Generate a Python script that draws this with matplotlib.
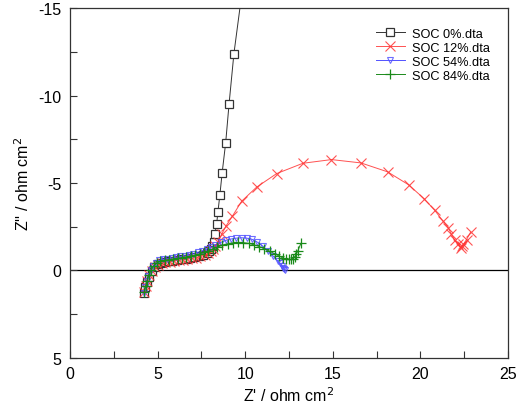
import matplotlib
matplotlib.use('Agg')

import matplotlib.pyplot as plt
from matplotlib.ticker import MultipleLocator, FuncFormatter

plt.rcParams['font.family'] = ['Liberation Sans', 'DejaVu Sans']

# SOC 0% (Z', Z'')
soc0_x = [4.22, 4.3, 4.4, 4.52, 4.66, 4.82, 5.0, 5.2, 5.4, 5.6, 5.85, 6.1, 6.35, 6.6,
          6.85, 7.1, 7.35, 7.6, 7.8, 7.95, 8.05, 8.12, 8.2, 8.28, 8.37, 8.45, 8.56,
          8.69, 8.89, 9.08, 9.36, 9.9]
soc0_y = [1.28, 0.95, 0.65, 0.35, 0.05, -0.2, -0.36, -0.45, -0.5, -0.54, -0.57, -0.6,
          -0.63, -0.67, -0.71, -0.76, -0.82, -0.9, -1.0, -1.12, -1.25, -1.4, -1.6,
          -2.11, -2.63, -3.37, -4.34, -5.6, -7.31, -9.49, -12.4, -16.5]

# SOC 12%
soc12_x = [4.25, 4.33, 4.42, 4.54, 4.68, 4.85, 5.05, 5.25, 5.45, 5.7, 5.95, 6.2, 6.45,
           6.7, 6.95, 7.2, 7.45, 7.7, 7.9, 8.05, 8.18, 8.3, 8.47, 8.66, 8.9, 9.27, 9.8,
           10.65, 11.8, 13.3, 14.93, 16.61, 18.13, 19.33, 20.21, 20.83, 21.3, 21.6,
           21.78, 21.97, 22.17, 22.3, 22.38, 22.45, 22.64, 22.87]
soc12_y = [1.25, 0.9, 0.58, 0.28, 0.02, -0.2, -0.34, -0.42, -0.47, -0.51, -0.55, -0.58,
           -0.61, -0.65, -0.69, -0.74, -0.8, -0.88, -0.98, -1.1, -1.25, -1.42, -1.65,
           -2.06, -2.53, -3.1, -3.96, -4.76, -5.54, -6.13, -6.34, -6.15, -5.64, -4.9,
           -4.11, -3.43, -2.82, -2.44, -2.06, -1.73, -1.49, -1.3, -1.38, -1.49, -1.77,
           -2.19]

# SOC 54%
soc54_x = [4.22, 4.3, 4.38, 4.48, 4.6, 4.75, 4.92, 5.1, 5.3, 5.55, 5.8, 6.05, 6.3, 6.55,
           6.8, 7.05, 7.3, 7.55, 7.8, 8.05, 8.3, 8.6, 8.9, 9.2, 9.5, 9.8, 10.1, 10.4,
           10.7, 11.0, 11.3, 11.6, 11.85, 12.0, 12.1, 12.18, 12.24, 12.27]
soc54_y = [1.28, 0.95, 0.62, 0.3, 0.0, -0.25, -0.45, -0.58, -0.64, -0.68, -0.72, -0.76,
           -0.8, -0.85, -0.9, -0.96, -1.03, -1.12, -1.22, -1.34, -1.47, -1.6, -1.72,
           -1.8, -1.85, -1.87, -1.85, -1.78, -1.62, -1.4, -1.1, -0.82, -0.55, -0.4,
           -0.28, -0.17, -0.09, -0.04]

# SOC 84%
soc84_x = [4.24, 4.32, 4.4, 4.5, 4.62, 4.78, 4.95, 5.15, 5.4, 5.65, 5.9, 6.15, 6.4, 6.65,
           6.9, 7.15, 7.4, 7.65, 7.9, 8.15, 8.4, 8.7, 9.0, 9.3, 9.6, 9.9, 10.2, 10.5,
           10.8, 11.1, 11.4, 11.7, 11.95, 12.15, 12.35, 12.5, 12.62, 12.72, 12.82, 12.92,
           13.0, 13.18]
soc84_y = [1.25, 0.9, 0.58, 0.28, 0.0, -0.25, -0.42, -0.52, -0.58, -0.62, -0.66, -0.7,
           -0.74, -0.78, -0.83, -0.88, -0.95, -1.03, -1.12, -1.22, -1.33, -1.44, -1.53,
           -1.58, -1.6, -1.59, -1.55, -1.47, -1.37, -1.25, -1.1, -0.95, -0.82, -0.72,
           -0.66, -0.63, -0.63, -0.68, -0.78, -0.93, -1.1, -1.55]

fig = plt.figure(figsize=(5.22, 4.14), dpi=100)
ax = fig.add_axes([0.134, 0.133, 0.839, 0.845])

ax.axhline(0, color='black', linewidth=0.9, zorder=1)

ax.plot(soc0_x, soc0_y, color='#333333', linewidth=0.7, marker='s', markersize=6,
        markerfacecolor='white', markeredgecolor='#333333', markeredgewidth=0.9,
        label='SOC 0%.dta', zorder=2)
ax.plot(soc12_x, soc12_y, color='#ff3333', linewidth=0.7, marker='x', markersize=7,
        markeredgewidth=0.8, alpha=0.85, label='SOC 12%.dta', zorder=3)
ax.plot(soc54_x, soc54_y, color='#3333ff', linewidth=0.7, marker='v', markersize=5,
        markerfacecolor='none', markeredgecolor='#5555ff', markeredgewidth=0.8,
        alpha=0.85, label='SOC 54%.dta', zorder=4)
ax.plot(soc84_x, soc84_y, color='#1a8a1a', linewidth=0.7, marker='+', markersize=7,
        markeredgewidth=0.9, label='SOC 84%.dta', zorder=5)

ax.set_xlim(0, 25)
ax.set_ylim(5, -15)

ax.xaxis.set_major_locator(MultipleLocator(2.5))
ax.yaxis.set_major_locator(MultipleLocator(2.5))
fmt = FuncFormatter(lambda v, p: '%d' % v if abs(v / 5 - round(v / 5)) < 1e-6 else '')
ax.xaxis.set_major_formatter(fmt)
ax.yaxis.set_major_formatter(fmt)
ax.tick_params(direction='in', length=5, width=0.8, labelsize=11.5, pad=6,
               top=False, right=False, colors='#333333', labelcolor='black')

for s in ax.spines.values():
    s.set_color('#333333')
    s.set_linewidth(0.9)

ax.set_xlabel("Z' / ohm cm$^2$", fontsize=11.5, labelpad=3)
ax.set_ylabel("Z'' / ohm cm$^2$", fontsize=11.5, labelpad=5)

ax.legend(loc='upper right', bbox_to_anchor=(0.959, 0.944), frameon=False, fontsize=9.2,
          handlelength=2.3, handletextpad=0.55, labelspacing=0.16, borderaxespad=0,
          borderpad=0)

fig.savefig('out.png', dpi=100)
